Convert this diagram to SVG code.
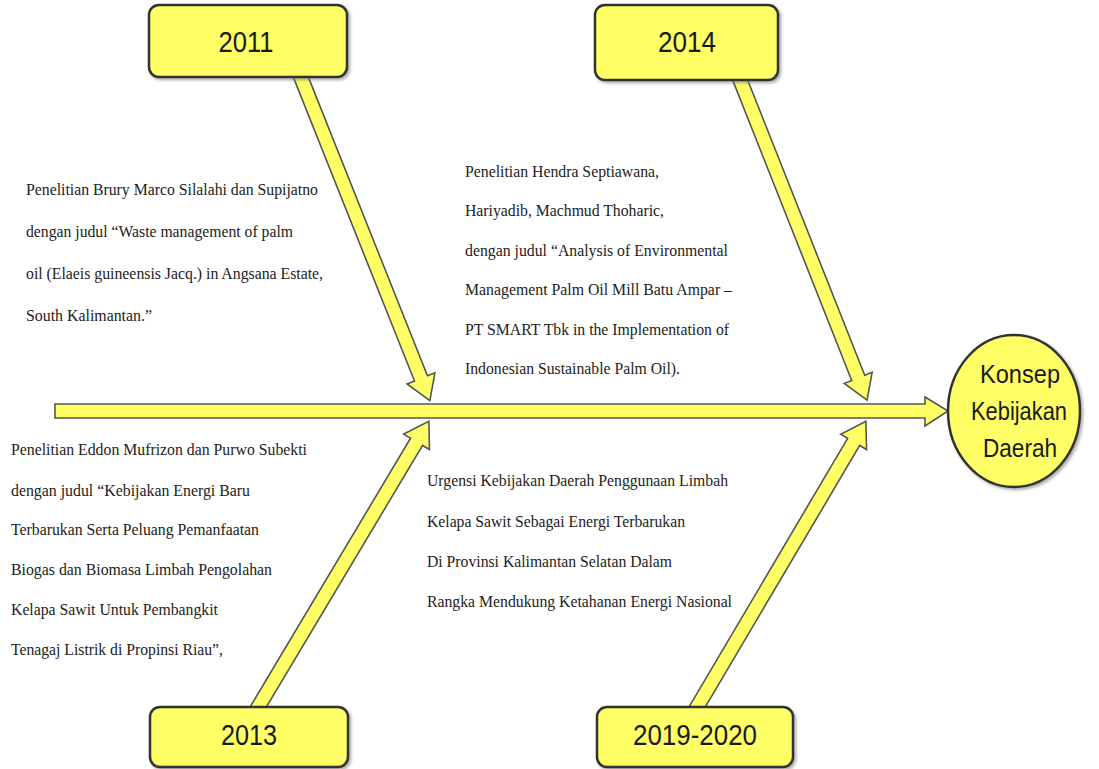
<svg xmlns="http://www.w3.org/2000/svg" width="1099" height="769" viewBox="0 0 1099 769">
<defs>
<filter id="sh" x="-10%" y="-10%" width="130%" height="140%">
<feDropShadow dx="2" dy="2" stdDeviation="1.5" flood-color="#777" flood-opacity="0.6"/>
</filter>
<style>
.box{fill:#ffff66;stroke:#333;stroke-width:2.5;filter:url(#sh)}
.arr{fill:#ffff66;stroke:#555;stroke-width:1.6;stroke-linejoin:miter}
.yr{font-family:"Liberation Sans",Arial,sans-serif;font-size:29px;fill:#1a1a1a;text-anchor:middle}
.ct{font-family:"Liberation Sans",Arial,sans-serif;font-size:26px;fill:#1a1a1a;text-anchor:middle}
.tx{font-family:"Liberation Serif","Times New Roman",serif;font-size:16px;fill:#222}
</style>
</defs>
<rect width="1099" height="769" fill="#fff"/>
<g id="connectors">
<path class="arr" d="M55,404 L925,404 L925,397 L948,411 L925,426 L925,418 L55,418 Z"/>
<path class="arr" transform="translate(298,70) rotate(68.26)" d="M0,-7 L332,-7 L332,-15 L356,0 L332,15 L332,7 L0,7 Z"/>
<path class="arr" transform="translate(737,72) rotate(68.38)" d="M0,-7 L329,-7 L329,-15 L353,0 L329,15 L329,7 L0,7 Z"/>
<path class="arr" transform="translate(254,714) rotate(-59.15)" d="M0,-7 L317,-7 L317,-15 L341,0 L317,15 L317,7 L0,7 Z"/>
<path class="arr" transform="translate(693,714) rotate(-59.44)" d="M0,-7 L316,-7 L316,-15 L340,0 L316,15 L316,7 L0,7 Z"/>
</g>
<g id="n2011">
<rect class="box" x="149" y="5" width="198" height="72" rx="10"/>
<text class="yr" x="246" y="52" textLength="55" lengthAdjust="spacingAndGlyphs">2011</text>
</g>
<g id="n2014">
<rect class="box" x="595" y="5" width="183" height="75" rx="10"/>
<text class="yr" x="687" y="52" textLength="58" lengthAdjust="spacingAndGlyphs">2014</text>
</g>
<g id="n2013">
<rect class="box" x="150" y="707" width="198" height="60" rx="10"/>
<text class="yr" x="249" y="745" textLength="56" lengthAdjust="spacingAndGlyphs">2013</text>
</g>
<g id="n2019">
<rect class="box" x="597" y="707" width="196" height="60" rx="10"/>
<text class="yr" x="695" y="745" textLength="124" lengthAdjust="spacingAndGlyphs">2019-2020</text>
</g>
<g id="konsep">
<ellipse class="box" cx="1014" cy="411" rx="66" ry="76"/>
<text class="ct" x="1020" y="383" textLength="80" lengthAdjust="spacingAndGlyphs">Konsep</text>
<text class="ct" x="1019" y="420" textLength="96" lengthAdjust="spacingAndGlyphs">Kebijakan</text>
<text class="ct" x="1020" y="457" textLength="74" lengthAdjust="spacingAndGlyphs">Daerah</text>
</g>
<g id="t2011">
<text class="tx" x="26" y="195" textLength="292" lengthAdjust="spacingAndGlyphs">Penelitian Brury Marco Silalahi dan Supijatno</text>
<text class="tx" x="26" y="237" textLength="267" lengthAdjust="spacingAndGlyphs">dengan judul “Waste management of palm</text>
<text class="tx" x="26" y="279" textLength="297" lengthAdjust="spacingAndGlyphs">oil (Elaeis guineensis Jacq.) in Angsana Estate,</text>
<text class="tx" x="26" y="321" textLength="126" lengthAdjust="spacingAndGlyphs">South Kalimantan.”</text>
</g>
<g id="t2014">
<text class="tx" x="465" y="177" textLength="194" lengthAdjust="spacingAndGlyphs">Penelitian Hendra Septiawana,</text>
<text class="tx" x="465" y="216" textLength="199" lengthAdjust="spacingAndGlyphs">Hariyadib, Machmud Thoharic,</text>
<text class="tx" x="465" y="256" textLength="263" lengthAdjust="spacingAndGlyphs">dengan judul “Analysis of Environmental</text>
<text class="tx" x="465" y="295" textLength="267" lengthAdjust="spacingAndGlyphs">Management Palm Oil Mill Batu Ampar –</text>
<text class="tx" x="465" y="335" textLength="264" lengthAdjust="spacingAndGlyphs">PT SMART Tbk in the Implementation of</text>
<text class="tx" x="465" y="374" textLength="215" lengthAdjust="spacingAndGlyphs">Indonesian Sustainable Palm Oil).</text>
</g>
<g id="t2013">
<text class="tx" x="11" y="455" textLength="296" lengthAdjust="spacingAndGlyphs">Penelitian Eddon Mufrizon dan Purwo Subekti</text>
<text class="tx" x="11" y="496" textLength="239" lengthAdjust="spacingAndGlyphs">dengan judul “Kebijakan Energi Baru</text>
<text class="tx" x="11" y="535" textLength="248" lengthAdjust="spacingAndGlyphs">Terbarukan Serta Peluang Pemanfaatan</text>
<text class="tx" x="11" y="575" textLength="261" lengthAdjust="spacingAndGlyphs">Biogas dan Biomasa Limbah Pengolahan</text>
<text class="tx" x="11" y="615" textLength="207" lengthAdjust="spacingAndGlyphs">Kelapa Sawit Untuk Pembangkit</text>
<text class="tx" x="11" y="655" textLength="212" lengthAdjust="spacingAndGlyphs">Tenagaj Listrik di Propinsi Riau”,</text>
</g>
<g id="t2019">
<text class="tx" x="427" y="486" textLength="301" lengthAdjust="spacingAndGlyphs">Urgensi Kebijakan Daerah Penggunaan Limbah</text>
<text class="tx" x="427" y="527" textLength="258" lengthAdjust="spacingAndGlyphs">Kelapa Sawit Sebagai Energi Terbarukan</text>
<text class="tx" x="427" y="567" textLength="245" lengthAdjust="spacingAndGlyphs">Di Provinsi Kalimantan Selatan Dalam</text>
<text class="tx" x="427" y="607" textLength="305" lengthAdjust="spacingAndGlyphs">Rangka Mendukung Ketahanan Energi Nasional</text>
</g>
</svg>
